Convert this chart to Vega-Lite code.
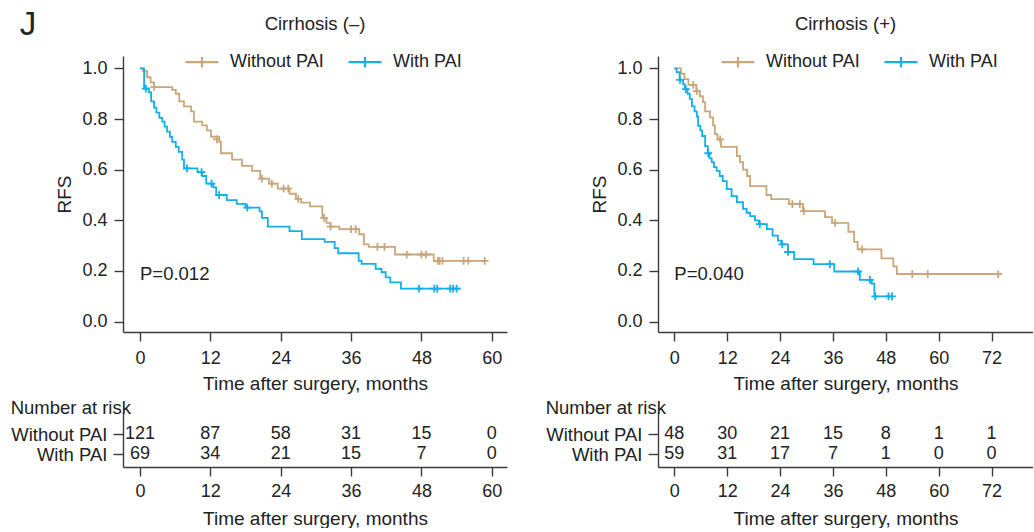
{
  "$schema": "https://vega.github.io/schema/vega-lite/v6.json",
  "padding": {"left": 10, "top": 8, "right": 0, "bottom": 0},
  "background": "white",
  "config": {
    "font": "Liberation Sans",
    "view": {"stroke": null},
    "axis": {"grid": false, "domainColor": "#3a3a3a", "tickColor": "#3a3a3a", "domainWidth": 1.4, "tickWidth": 1.4, "labelColor": "#222", "titleColor": "#222", "labelFontSize": 18, "titleFontSize": 19, "titleFontWeight": "normal", "labelFont": "Liberation Sans", "titleFont": "Liberation Sans"},
    "title": {"fontWeight": "normal", "color": "#222", "font": "Liberation Sans"},
    "legend": {"labelFontSize": 18, "labelColor": "#222", "labelFont": "Liberation Sans"}
  },
  "title": {"text": "J", "anchor": "start", "fontSize": 33, "frame": "bounds", "dx": 9, "dy": -3, "offset": -30},
  "datasets": {
    "kmL": [
      {"group": "Without PAI", "t": 0, "s": 1.0}, {"group": "Without PAI", "t": 0.5, "s": 0.99}, {"group": "Without PAI", "t": 1.2, "s": 0.965}, {"group": "Without PAI", "t": 1.8, "s": 0.945}, {"group": "Without PAI", "t": 2.4, "s": 0.926}, {"group": "Without PAI", "t": 5.5, "s": 0.915}, {"group": "Without PAI", "t": 6.1, "s": 0.9}, {"group": "Without PAI", "t": 6.7, "s": 0.87}, {"group": "Without PAI", "t": 7.5, "s": 0.85}, {"group": "Without PAI", "t": 8.7, "s": 0.83}, {"group": "Without PAI", "t": 9.2, "s": 0.79}, {"group": "Without PAI", "t": 10.6, "s": 0.775}, {"group": "Without PAI", "t": 11.4, "s": 0.755}, {"group": "Without PAI", "t": 12.1, "s": 0.73}, {"group": "Without PAI", "t": 13.5, "s": 0.71}, {"group": "Without PAI", "t": 13.8, "s": 0.665}, {"group": "Without PAI", "t": 15.7, "s": 0.64}, {"group": "Without PAI", "t": 17.4, "s": 0.615}, {"group": "Without PAI", "t": 19.1, "s": 0.595}, {"group": "Without PAI", "t": 20.5, "s": 0.565}, {"group": "Without PAI", "t": 22.0, "s": 0.545}, {"group": "Without PAI", "t": 23.5, "s": 0.525}, {"group": "Without PAI", "t": 25.5, "s": 0.505}, {"group": "Without PAI", "t": 26.6, "s": 0.485}, {"group": "Without PAI", "t": 27.5, "s": 0.47}, {"group": "Without PAI", "t": 29.0, "s": 0.455}, {"group": "Without PAI", "t": 31.1, "s": 0.41}, {"group": "Without PAI", "t": 31.8, "s": 0.39}, {"group": "Without PAI", "t": 32.5, "s": 0.375}, {"group": "Without PAI", "t": 34.0, "s": 0.365}, {"group": "Without PAI", "t": 37.4, "s": 0.345}, {"group": "Without PAI", "t": 38.2, "s": 0.305}, {"group": "Without PAI", "t": 39.0, "s": 0.295}, {"group": "Without PAI", "t": 43.5, "s": 0.265}, {"group": "Without PAI", "t": 50.1, "s": 0.24}, {"group": "Without PAI", "t": 58.8, "s": 0.24},
      {"group": "With PAI", "t": 0, "s": 1.0}, {"group": "With PAI", "t": 0.7, "s": 0.92}, {"group": "With PAI", "t": 1.5, "s": 0.905}, {"group": "With PAI", "t": 1.9, "s": 0.87}, {"group": "With PAI", "t": 2.4, "s": 0.845}, {"group": "With PAI", "t": 2.8, "s": 0.825}, {"group": "With PAI", "t": 3.3, "s": 0.805}, {"group": "With PAI", "t": 3.8, "s": 0.79}, {"group": "With PAI", "t": 4.2, "s": 0.77}, {"group": "With PAI", "t": 4.6, "s": 0.75}, {"group": "With PAI", "t": 5.1, "s": 0.73}, {"group": "With PAI", "t": 5.5, "s": 0.71}, {"group": "With PAI", "t": 6.1, "s": 0.69}, {"group": "With PAI", "t": 6.6, "s": 0.67}, {"group": "With PAI", "t": 7.2, "s": 0.64}, {"group": "With PAI", "t": 7.5, "s": 0.605}, {"group": "With PAI", "t": 9.8, "s": 0.59}, {"group": "With PAI", "t": 10.6, "s": 0.575}, {"group": "With PAI", "t": 11.3, "s": 0.545}, {"group": "With PAI", "t": 12.5, "s": 0.53}, {"group": "With PAI", "t": 13.0, "s": 0.5}, {"group": "With PAI", "t": 14.8, "s": 0.48}, {"group": "With PAI", "t": 16.5, "s": 0.465}, {"group": "With PAI", "t": 18.0, "s": 0.45}, {"group": "With PAI", "t": 20.4, "s": 0.435}, {"group": "With PAI", "t": 20.8, "s": 0.41}, {"group": "With PAI", "t": 21.8, "s": 0.375}, {"group": "With PAI", "t": 25.5, "s": 0.357}, {"group": "With PAI", "t": 27.6, "s": 0.326}, {"group": "With PAI", "t": 31.5, "s": 0.315}, {"group": "With PAI", "t": 33.2, "s": 0.29}, {"group": "With PAI", "t": 33.8, "s": 0.27}, {"group": "With PAI", "t": 37.3, "s": 0.24}, {"group": "With PAI", "t": 37.8, "s": 0.228}, {"group": "With PAI", "t": 40.2, "s": 0.208}, {"group": "With PAI", "t": 41.2, "s": 0.195}, {"group": "With PAI", "t": 41.9, "s": 0.175}, {"group": "With PAI", "t": 42.7, "s": 0.155}, {"group": "With PAI", "t": 44.5, "s": 0.13}, {"group": "With PAI", "t": 54.7, "s": 0.13}
    ],
    "censL": [
      {"group": "Without PAI", "t": 2.4, "s": 0.926}, {"group": "Without PAI", "t": 13.1, "s": 0.72}, {"group": "Without PAI", "t": 20.8, "s": 0.565}, {"group": "Without PAI", "t": 22.5, "s": 0.545}, {"group": "Without PAI", "t": 24.5, "s": 0.525}, {"group": "Without PAI", "t": 25.3, "s": 0.525}, {"group": "Without PAI", "t": 27.0, "s": 0.485}, {"group": "Without PAI", "t": 31.4, "s": 0.41}, {"group": "Without PAI", "t": 32.5, "s": 0.375}, {"group": "Without PAI", "t": 36.0, "s": 0.365}, {"group": "Without PAI", "t": 36.8, "s": 0.365}, {"group": "Without PAI", "t": 40.5, "s": 0.295}, {"group": "Without PAI", "t": 41.7, "s": 0.295}, {"group": "Without PAI", "t": 45.5, "s": 0.265}, {"group": "Without PAI", "t": 48.0, "s": 0.265}, {"group": "Without PAI", "t": 48.8, "s": 0.265}, {"group": "Without PAI", "t": 50.8, "s": 0.24}, {"group": "Without PAI", "t": 51.1, "s": 0.24}, {"group": "Without PAI", "t": 51.6, "s": 0.24}, {"group": "Without PAI", "t": 55.2, "s": 0.24}, {"group": "Without PAI", "t": 56.0, "s": 0.24}, {"group": "Without PAI", "t": 58.8, "s": 0.24},
      {"group": "With PAI", "t": 1.0, "s": 0.92}, {"group": "With PAI", "t": 8.0, "s": 0.605}, {"group": "With PAI", "t": 10.5, "s": 0.59}, {"group": "With PAI", "t": 12.2, "s": 0.545}, {"group": "With PAI", "t": 13.5, "s": 0.5}, {"group": "With PAI", "t": 18.3, "s": 0.45}, {"group": "With PAI", "t": 47.6, "s": 0.13}, {"group": "With PAI", "t": 50.2, "s": 0.13}, {"group": "With PAI", "t": 50.7, "s": 0.13}, {"group": "With PAI", "t": 52.9, "s": 0.13}, {"group": "With PAI", "t": 53.4, "s": 0.13}, {"group": "With PAI", "t": 54.0, "s": 0.13}
    ],
    "kmR": [
      {"group": "Without PAI", "t": 0, "s": 1.0}, {"group": "Without PAI", "t": 1.5, "s": 0.979}, {"group": "Without PAI", "t": 2.3, "s": 0.958}, {"group": "Without PAI", "t": 3.2, "s": 0.935}, {"group": "Without PAI", "t": 5.0, "s": 0.91}, {"group": "Without PAI", "t": 5.8, "s": 0.89}, {"group": "Without PAI", "t": 6.5, "s": 0.867}, {"group": "Without PAI", "t": 7.0, "s": 0.83}, {"group": "Without PAI", "t": 8.1, "s": 0.807}, {"group": "Without PAI", "t": 8.8, "s": 0.775}, {"group": "Without PAI", "t": 9.2, "s": 0.74}, {"group": "Without PAI", "t": 9.8, "s": 0.72}, {"group": "Without PAI", "t": 10.6, "s": 0.69}, {"group": "Without PAI", "t": 14.2, "s": 0.654}, {"group": "Without PAI", "t": 14.9, "s": 0.63}, {"group": "Without PAI", "t": 15.6, "s": 0.6}, {"group": "Without PAI", "t": 16.5, "s": 0.575}, {"group": "Without PAI", "t": 17.2, "s": 0.535}, {"group": "Without PAI", "t": 20.9, "s": 0.5}, {"group": "Without PAI", "t": 22.0, "s": 0.484}, {"group": "Without PAI", "t": 26.0, "s": 0.464}, {"group": "Without PAI", "t": 29.2, "s": 0.436}, {"group": "Without PAI", "t": 34.2, "s": 0.413}, {"group": "Without PAI", "t": 35.8, "s": 0.39}, {"group": "Without PAI", "t": 39.5, "s": 0.355}, {"group": "Without PAI", "t": 40.8, "s": 0.315}, {"group": "Without PAI", "t": 41.6, "s": 0.285}, {"group": "Without PAI", "t": 47.0, "s": 0.25}, {"group": "Without PAI", "t": 49.7, "s": 0.218}, {"group": "Without PAI", "t": 50.5, "s": 0.188}, {"group": "Without PAI", "t": 73.5, "s": 0.188},
      {"group": "With PAI", "t": 0, "s": 1.0}, {"group": "With PAI", "t": 0.5, "s": 0.985}, {"group": "With PAI", "t": 1.2, "s": 0.955}, {"group": "With PAI", "t": 2.0, "s": 0.937}, {"group": "With PAI", "t": 2.4, "s": 0.918}, {"group": "With PAI", "t": 3.0, "s": 0.9}, {"group": "With PAI", "t": 3.5, "s": 0.88}, {"group": "With PAI", "t": 4.0, "s": 0.85}, {"group": "With PAI", "t": 4.6, "s": 0.83}, {"group": "With PAI", "t": 5.1, "s": 0.81}, {"group": "With PAI", "t": 5.4, "s": 0.773}, {"group": "With PAI", "t": 5.9, "s": 0.755}, {"group": "With PAI", "t": 6.3, "s": 0.733}, {"group": "With PAI", "t": 7.0, "s": 0.693}, {"group": "With PAI", "t": 7.6, "s": 0.665}, {"group": "With PAI", "t": 8.0, "s": 0.645}, {"group": "With PAI", "t": 8.5, "s": 0.63}, {"group": "With PAI", "t": 9.0, "s": 0.61}, {"group": "With PAI", "t": 9.6, "s": 0.595}, {"group": "With PAI", "t": 10.3, "s": 0.575}, {"group": "With PAI", "t": 11.0, "s": 0.555}, {"group": "With PAI", "t": 11.9, "s": 0.523}, {"group": "With PAI", "t": 13.0, "s": 0.496}, {"group": "With PAI", "t": 14.2, "s": 0.472}, {"group": "With PAI", "t": 15.6, "s": 0.445}, {"group": "With PAI", "t": 16.4, "s": 0.43}, {"group": "With PAI", "t": 17.2, "s": 0.417}, {"group": "With PAI", "t": 18.3, "s": 0.4}, {"group": "With PAI", "t": 19.2, "s": 0.385}, {"group": "With PAI", "t": 21.0, "s": 0.365}, {"group": "With PAI", "t": 22.3, "s": 0.34}, {"group": "With PAI", "t": 23.5, "s": 0.32}, {"group": "With PAI", "t": 24.3, "s": 0.305}, {"group": "With PAI", "t": 25.8, "s": 0.275}, {"group": "With PAI", "t": 27.2, "s": 0.247}, {"group": "With PAI", "t": 31.6, "s": 0.227}, {"group": "With PAI", "t": 36.3, "s": 0.198}, {"group": "With PAI", "t": 42.1, "s": 0.165}, {"group": "With PAI", "t": 44.8, "s": 0.15}, {"group": "With PAI", "t": 45.4, "s": 0.1}, {"group": "With PAI", "t": 49.6, "s": 0.1}
    ],
    "censR": [
      {"group": "Without PAI", "t": 4.3, "s": 0.935}, {"group": "Without PAI", "t": 5.1, "s": 0.91}, {"group": "Without PAI", "t": 10.4, "s": 0.72}, {"group": "Without PAI", "t": 26.8, "s": 0.464}, {"group": "Without PAI", "t": 28.5, "s": 0.464}, {"group": "Without PAI", "t": 29.4, "s": 0.436}, {"group": "Without PAI", "t": 36.5, "s": 0.39}, {"group": "Without PAI", "t": 42.6, "s": 0.285}, {"group": "Without PAI", "t": 54.0, "s": 0.188}, {"group": "Without PAI", "t": 57.5, "s": 0.188}, {"group": "Without PAI", "t": 73.5, "s": 0.188},
      {"group": "With PAI", "t": 1.3, "s": 0.955}, {"group": "With PAI", "t": 2.6, "s": 0.918}, {"group": "With PAI", "t": 7.7, "s": 0.665}, {"group": "With PAI", "t": 19.4, "s": 0.385}, {"group": "With PAI", "t": 24.5, "s": 0.305}, {"group": "With PAI", "t": 25.8, "s": 0.275}, {"group": "With PAI", "t": 35.3, "s": 0.227}, {"group": "With PAI", "t": 41.7, "s": 0.198}, {"group": "With PAI", "t": 44.4, "s": 0.165}, {"group": "With PAI", "t": 45.6, "s": 0.1}, {"group": "With PAI", "t": 48.6, "s": 0.1}, {"group": "With PAI", "t": 49.4, "s": 0.1}
    ],
    "riskL": [
      {"row": 1, "t": 0, "n": "121"}, {"row": 1, "t": 12, "n": "87"}, {"row": 1, "t": 24, "n": "58"}, {"row": 1, "t": 36, "n": "31"}, {"row": 1, "t": 48, "n": "15"}, {"row": 1, "t": 60, "n": "0"},
      {"row": 2, "t": 0, "n": "69"}, {"row": 2, "t": 12, "n": "34"}, {"row": 2, "t": 24, "n": "21"}, {"row": 2, "t": 36, "n": "15"}, {"row": 2, "t": 48, "n": "7"}, {"row": 2, "t": 60, "n": "0"}
    ],
    "riskR": [
      {"row": 1, "t": 0, "n": "48"}, {"row": 1, "t": 12, "n": "30"}, {"row": 1, "t": 24, "n": "21"}, {"row": 1, "t": 36, "n": "15"}, {"row": 1, "t": 48, "n": "8"}, {"row": 1, "t": 60, "n": "1"}, {"row": 1, "t": 72, "n": "1"},
      {"row": 2, "t": 0, "n": "59"}, {"row": 2, "t": 12, "n": "31"}, {"row": 2, "t": 24, "n": "17"}, {"row": 2, "t": 36, "n": "7"}, {"row": 2, "t": 48, "n": "1"}, {"row": 2, "t": 60, "n": "0"}, {"row": 2, "t": 72, "n": "0"}
    ],
    "pL": [{"t": 0, "s": 0.19, "label": "P=0.012"}],
    "pR": [{"t": 0, "s": 0.19, "label": "P=0.040"}]
  },
  "spacing": 38,
  "resolve": {"scale": {"color": "independent", "x": "independent", "y": "independent"}, "legend": {"color": "independent"}},
  "hconcat": [
    {
      "spacing": 5,
      "resolve": {"scale": {"color": "independent", "x": "independent", "y": "independent"}, "legend": {"color": "independent"}},
      "vconcat": [
        {
          "width": 384, "height": 276,
          "title": {"text": "Cirrhosis (–)", "anchor": "middle", "fontSize": 18.5, "offset": 11},
          "layer": [
            {
              "data": {"name": "kmL"},
              "mark": {"type": "line", "interpolate": "step-after", "strokeWidth": 1.8},
              "encoding": {
                "x": {"field": "t", "type": "quantitative", "scale": {"domain": [-2.9, 62.6], "nice": false, "zero": false}, "axis": {"values": [0, 12, 24, 36, 48, 60], "title": "Time after surgery, months", "tickSize": 9, "labelPadding": 8, "titlePadding": 7}},
                "y": {"field": "s", "type": "quantitative", "scale": {"domain": [-0.041, 1.049], "nice": false, "zero": false}, "axis": {"values": [0, 0.2, 0.4, 0.6, 0.8, 1.0], "format": ".1f", "title": "RFS", "tickSize": 9, "labelPadding": 7, "titlePadding": 7}},
                "color": {"field": "group", "type": "nominal", "scale": {"domain": ["Without PAI", "With PAI"], "range": ["#C9A77B", "#14AEE9"]},
                  "legend": {"title": null, "orient": "none", "legendX": 61, "legendY": -12, "direction": "horizontal", "symbolType": "M-1,0H1M0,-0.32V0.32", "symbolSize": 1089, "symbolStrokeWidth": 2.2, "symbolFillColor": "transparent", "labelOffset": 10, "columnPadding": 20}}
              }
            },
            {
              "data": {"name": "censL"},
              "mark": {"type": "point", "shape": "M-1,0H1M0,-1V1", "filled": false, "size": 60, "strokeWidth": 1.8, "opacity": 1},
              "encoding": {
                "x": {"field": "t", "type": "quantitative"},
                "y": {"field": "s", "type": "quantitative"},
                "color": {"field": "group", "type": "nominal", "scale": {"domain": ["Without PAI", "With PAI"], "range": ["#C9A77B", "#14AEE9"]}}
              }
            },
            {
              "data": {"name": "pL"},
              "mark": {"type": "text", "align": "left", "baseline": "middle", "fontSize": 18.5, "color": "#222", "font": "Liberation Sans"},
              "encoding": {
                "x": {"field": "t", "type": "quantitative"},
                "y": {"field": "s", "type": "quantitative"},
                "text": {"field": "label"}
              }
            }
          ]
        },
        {
          "width": 384, "height": 55,
          "title": {"text": "Number at risk", "anchor": "start", "frame": "bounds", "fontSize": 18.5, "offset": -5},
          "data": {"name": "riskL"},
          "mark": {"type": "text", "fontSize": 18, "color": "#222", "baseline": "middle", "align": "center", "font": "Liberation Sans"},
          "encoding": {
            "x": {"field": "t", "type": "quantitative", "scale": {"domain": [-2.9, 62.6], "nice": false, "zero": false}, "axis": {"values": [0, 12, 24, 36, 48, 60], "title": "Time after surgery, months", "tickSize": 9, "labelPadding": 6, "titlePadding": 9}},
            "y": {"field": "row", "type": "quantitative", "scale": {"domain": [-0.1, 2.65], "nice": false, "zero": false, "reverse": true}, "axis": {"values": [1, 2], "labelExpr": "datum.value == 1 ? 'Without PAI' : 'With PAI'", "title": null, "tickSize": 10, "labelPadding": 6, "labelFontSize": 18.5}},
            "text": {"field": "n"}
          }
        }
      ]
    },
    {
      "spacing": 5,
      "resolve": {"scale": {"color": "independent", "x": "independent", "y": "independent"}, "legend": {"color": "independent"}},
      "vconcat": [
        {
          "width": 375, "height": 276,
          "title": {"text": "Cirrhosis (+)", "anchor": "middle", "fontSize": 18.5, "offset": 11},
          "layer": [
            {
              "data": {"name": "kmR"},
              "mark": {"type": "line", "interpolate": "step-after", "strokeWidth": 1.8},
              "encoding": {
                "x": {"field": "t", "type": "quantitative", "scale": {"domain": [-3.7, 81.4], "nice": false, "zero": false}, "axis": {"values": [0, 12, 24, 36, 48, 60, 72], "title": "Time after surgery, months", "tickSize": 9, "labelPadding": 8, "titlePadding": 7}},
                "y": {"field": "s", "type": "quantitative", "scale": {"domain": [-0.041, 1.049], "nice": false, "zero": false}, "axis": {"values": [0, 0.2, 0.4, 0.6, 0.8, 1.0], "format": ".1f", "title": "RFS", "tickSize": 9, "labelPadding": 7, "titlePadding": 7}},
                "color": {"field": "group", "type": "nominal", "scale": {"domain": ["Without PAI", "With PAI"], "range": ["#C9A77B", "#14AEE9"]},
                  "legend": {"title": null, "orient": "none", "legendX": 62, "legendY": -12, "direction": "horizontal", "symbolType": "M-1,0H1M0,-0.32V0.32", "symbolSize": 1089, "symbolStrokeWidth": 2.2, "symbolFillColor": "transparent", "labelOffset": 10, "columnPadding": 20}}
              }
            },
            {
              "data": {"name": "censR"},
              "mark": {"type": "point", "shape": "M-1,0H1M0,-1V1", "filled": false, "size": 60, "strokeWidth": 1.8, "opacity": 1},
              "encoding": {
                "x": {"field": "t", "type": "quantitative"},
                "y": {"field": "s", "type": "quantitative"},
                "color": {"field": "group", "type": "nominal", "scale": {"domain": ["Without PAI", "With PAI"], "range": ["#C9A77B", "#14AEE9"]}}
              }
            },
            {
              "data": {"name": "pR"},
              "mark": {"type": "text", "align": "left", "baseline": "middle", "fontSize": 18.5, "color": "#222", "font": "Liberation Sans"},
              "encoding": {
                "x": {"field": "t", "type": "quantitative"},
                "y": {"field": "s", "type": "quantitative"},
                "text": {"field": "label"}
              }
            }
          ]
        },
        {
          "width": 375, "height": 55,
          "title": {"text": "Number at risk", "anchor": "start", "frame": "bounds", "fontSize": 18.5, "offset": -5},
          "data": {"name": "riskR"},
          "mark": {"type": "text", "fontSize": 18, "color": "#222", "baseline": "middle", "align": "center", "font": "Liberation Sans"},
          "encoding": {
            "x": {"field": "t", "type": "quantitative", "scale": {"domain": [-3.7, 81.4], "nice": false, "zero": false}, "axis": {"values": [0, 12, 24, 36, 48, 60, 72], "title": "Time after surgery, months", "tickSize": 9, "labelPadding": 6, "titlePadding": 9}},
            "y": {"field": "row", "type": "quantitative", "scale": {"domain": [-0.1, 2.65], "nice": false, "zero": false, "reverse": true}, "axis": {"values": [1, 2], "labelExpr": "datum.value == 1 ? 'Without PAI' : 'With PAI'", "title": null, "tickSize": 10, "labelPadding": 6, "labelFontSize": 18.5}},
            "text": {"field": "n"}
          }
        }
      ]
    }
  ]
}
